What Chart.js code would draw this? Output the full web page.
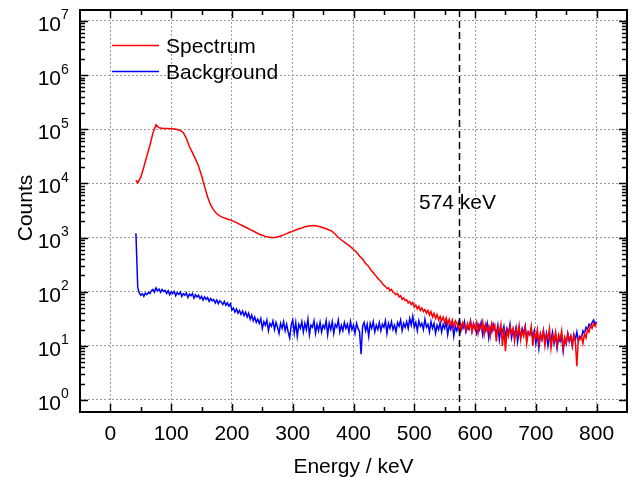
<!DOCTYPE html>
<html>
<head>
<meta charset="utf-8">
<script src="https://cdn.jsdelivr.net/npm/chart.js@4.4.1/dist/chart.umd.min.js"></script>
<style>
  html, body { margin: 0; padding: 0; background: #fff; }
</style>
</head>
<body>
<canvas id="spec" width="632" height="477"></canvas>
<script>
// Spectrum channels (keV): coarse on the smooth part, 2.5 keV on the noisy tail
const specEnergies = [
  42,
  45, 50, 55, 60, 65, 70, 75, 80, 85, 90,
  95, 100, 105, 110, 115, 120, 125, 130, 135, 140,
  145, 150, 155, 160, 165, 170, 175, 180, 185, 190,
  195, 200, 205, 210, 215, 220, 225, 230, 235, 240,
  245, 250, 255, 260, 265, 270, 275, 280, 285, 290,
  295, 300, 305, 310, 315, 320, 325, 330, 335, 340,
  345, 350, 355, 360, 365, 370, 375, 380, 385, 390,
  395,
  400, 402.5, 405, 407.5, 410, 412.5, 415, 417.5, 420, 422.5, 425, 427.5, 430, 432.5, 435, 437.5, 440, 442.5, 445, 447.5,
  450, 452.5, 455, 457.5, 460, 462.5, 465, 467.5, 470, 472.5, 475, 477.5, 480, 482.5, 485, 487.5, 490, 492.5, 495, 497.5,
  500, 502.5, 505, 507.5, 510, 512.5, 515, 517.5, 520, 522.5, 525, 527.5, 530, 532.5, 535, 537.5, 540, 542.5, 545, 547.5,
  550, 552.5, 555, 557.5, 560, 562.5, 565, 567.5, 570, 572.5, 575, 577.5, 580, 582.5, 585, 587.5, 590, 592.5, 595, 597.5,
  600, 602.5, 605, 607.5, 610, 612.5, 615, 617.5, 620, 622.5, 625, 627.5, 630, 632.5, 635, 637.5, 640, 642.5, 645, 647.5,
  650, 652.5, 655, 657.5, 660, 662.5, 665, 667.5, 670, 672.5, 675, 677.5, 680, 682.5, 685, 687.5, 690, 692.5, 695, 697.5,
  700, 702.5, 705, 707.5, 710, 712.5, 715, 717.5, 720, 722.5, 725, 727.5, 730, 732.5, 735, 737.5, 740, 742.5, 745, 747.5,
  750, 752.5, 755, 757.5, 760, 762.5, 765, 767.5, 770, 772.5, 775, 777.5, 780, 782.5, 785, 787.5, 790, 792.5, 795, 797.5,
  800
];

const spectrum = [
  11500,
  10200, 13000, 20000, 32000, 50000, 85000, 120000, 106000, 104000, 103000,
  103000, 102000, 101000, 99000, 95000, 86000, 68000, 48000, 37000, 28000,
  21000, 14000, 8700, 5600, 4000, 3200, 2750, 2500, 2350, 2250,
  2150, 2050, 1950, 1830, 1700, 1600, 1500, 1400, 1320, 1230,
  1150, 1100, 1050, 1020, 1000, 1000, 1020, 1070, 1120, 1180,
  1250, 1300, 1380, 1450, 1500, 1580, 1620, 1650, 1660, 1630,
  1580, 1520, 1450, 1380, 1300, 1150, 1000, 900, 820, 750,
  680,
  600, 570, 535, 495, 450, 425, 400, 365, 330, 310, 292, 262, 240, 225, 206, 192, 176, 166, 154, 142,
  132, 125, 114, 118, 105, 110, 98, 94, 88, 92, 80, 84, 72, 77, 68, 71, 62, 66, 58, 63,
  52, 57, 48, 54, 45, 50, 43, 47, 40, 45, 37, 43, 34, 40, 32, 38, 30, 35, 29, 34,
  27, 33, 25, 31, 24, 30, 22, 29, 26, 21, 28, 20, 27, 23, 19, 26, 21, 28, 18, 25,
  20, 27, 17, 24, 21, 28, 16, 25, 19, 23, 15, 26, 20, 24, 12, 22, 18, 25, 10, 21,
  8, 19, 15, 23, 17, 21, 12, 20, 16, 24, 13, 19, 15, 22, 11, 18, 16, 23, 10, 17,
  14, 20, 11, 17, 13, 19, 10, 16, 14, 21, 9, 15, 12, 18, 10, 16, 13, 19, 9, 14,
  11, 17, 13, 15, 10, 16, 12, 4.2, 14, 13, 15, 11, 17, 14, 20, 18, 24, 21, 26, 23,
  27
];

// Background channels (keV)
const bgEnergies = [
  42,
  45, 47.5, 50, 52.5, 55, 57.5, 60, 62.5, 65, 67.5, 70, 72.5, 75, 77.5, 80, 82.5, 85, 87.5, 90, 92.5,
  95, 97.5, 100, 102.5, 105, 107.5, 110, 112.5, 115, 117.5, 120, 122.5, 125, 127.5, 130, 132.5, 135, 137.5, 140, 142.5,
  145, 147.5, 150, 152.5, 155, 157.5, 160, 162.5, 165, 167.5, 170, 172.5, 175, 177.5, 180, 182.5, 185, 187.5, 190, 192.5,
  195, 197.5, 200, 202.5, 205, 207.5, 210, 212.5, 215, 217.5, 220, 222.5, 225, 227.5, 230, 232.5, 235, 237.5, 240, 242.5,
  245, 247.5, 250, 252.5, 255, 257.5, 260, 262.5, 265, 267.5, 270, 272.5, 275, 277.5, 280, 282.5, 285, 287.5, 290, 292.5,
  295, 297.5, 300, 302.5, 305, 307.5, 310, 312.5, 315, 317.5, 320, 322.5, 325, 327.5, 330, 332.5, 335, 337.5, 340, 342.5,
  345, 347.5, 350, 352.5, 355, 357.5, 360, 362.5, 365, 367.5, 370, 372.5, 375, 377.5, 380, 382.5, 385, 387.5, 390, 392.5,
  395, 397.5, 400, 402.5, 405, 407.5, 410, 412.5, 415, 417.5, 420, 422.5, 425, 427.5, 430, 432.5, 435, 437.5, 440, 442.5,
  445, 447.5, 450, 452.5, 455, 457.5, 460, 462.5, 465, 467.5, 470, 472.5, 475, 477.5, 480, 482.5, 485, 487.5, 490, 492.5,
  495, 497.5, 500, 502.5, 505, 507.5, 510, 512.5, 515, 517.5, 520, 522.5, 525, 527.5, 530, 532.5, 535, 537.5, 540, 542.5,
  545, 547.5, 550, 552.5, 555, 557.5, 560, 562.5, 565, 567.5, 570, 572.5, 575, 577.5, 580, 582.5, 585, 587.5, 590, 592.5,
  595, 597.5, 600, 602.5, 605, 607.5, 610, 612.5, 615, 617.5, 620, 622.5, 625, 627.5, 630, 632.5, 635, 637.5, 640, 642.5,
  645, 647.5, 650, 652.5, 655, 657.5, 660, 662.5, 665, 667.5, 670, 672.5, 675, 677.5, 680, 682.5, 685, 687.5, 690, 692.5,
  695, 697.5, 700, 702.5, 705, 707.5, 710, 712.5, 715, 717.5, 720, 722.5, 725, 727.5, 730, 732.5, 735, 737.5, 740, 742.5,
  745, 747.5, 750, 752.5, 755, 757.5, 760, 762.5, 765, 767.5, 770, 772.5, 775, 777.5, 780, 782.5, 785, 787.5, 790, 792.5,
  795, 797.5, 800
];

const background = [
  1200,
  120, 95, 86, 92, 82, 94, 88, 97, 92, 104, 110, 98, 118, 104, 112, 97, 110, 101, 106, 93,
  104, 88, 99, 92, 101, 84, 96, 89, 98, 82, 92, 86, 95, 78, 90, 84, 93, 76, 88, 80,
  86, 74, 82, 70, 80, 72, 78, 66, 75, 68, 72, 62, 70, 60, 68, 64, 58, 66, 56, 62,
  54, 60, 46, 50, 42, 48, 40, 45, 38, 44, 36, 42, 34, 40, 31, 37, 29, 34, 27, 31,
  26, 32, 21, 28, 24, 30, 19, 26, 23, 29, 20, 27, 22, 17, 26, 21, 28, 19, 25, 18,
  14, 24, 30, 17, 27, 15, 25, 21, 28, 18, 26, 20, 31, 16, 24, 22, 29, 17, 25, 19,
  27, 18, 24, 21, 29, 16, 26, 20, 28, 17, 25, 22, 30, 18, 24, 19, 27, 21, 25, 18,
  28, 20, 24, 17, 26, 21, 18, 7, 23, 27, 19, 25, 15, 26, 21, 28, 18, 24, 20, 27,
  19, 25, 22, 29, 17, 26, 21, 28, 20, 24, 18, 27, 23, 30, 19, 26, 22, 28, 21, 32,
  24, 35, 22, 27, 19, 29, 23, 26, 20, 31, 22, 25, 18, 28, 21, 26, 17, 24, 20, 27,
  18, 25, 21, 28, 16, 24, 20, 27, 15, 23, 19, 26, 17, 24, 21, 28, 18, 22, 20, 29,
  19, 26, 22, 17, 25, 20, 27, 16, 23, 19, 26, 14, 22, 18, 25, 20, 17, 24, 13, 21,
  18, 23, 15, 21, 17, 25, 14, 20, 16, 22, 12, 19, 15, 21, 17, 23, 13, 18, 16, 20,
  14, 19, 11, 17, 9, 16, 13, 19, 12, 17, 10, 15, 13, 18, 11, 16, 9, 14, 12, 15,
  8, 14, 11, 17, 12, 15, 10, 16, 13, 18, 12, 15, 14, 19, 17, 22, 20, 25, 23, 27,
  30, 25, 28
];

const xMajor = [0, 100, 200, 300, 400, 500, 600, 700, 800];
const xMinor = [50, 150, 250, 350, 450, 550, 650, 750];
const yDecades = [1, 10, 100, 1000, 10000, 100000, 1000000, 10000000];
const markerEnergy = 574;
const markerLabel = '574 keV';

const FONT = '"Liberation Sans", Arial, sans-serif';

const decor = {
  id: 'decor',
  afterDatasetsDraw(chart) {
    const { ctx, chartArea: a, scales: { x, y } } = chart;
    ctx.save();

    // 574 keV marker
    const mx = Math.round(x.getPixelForValue(markerEnergy)) + 0.5;
    ctx.strokeStyle = '#000';
    ctx.lineWidth = 1.5;
    ctx.setLineDash([7, 4]);
    ctx.beginPath();
    ctx.moveTo(mx, a.top);
    ctx.lineTo(mx, a.bottom);
    ctx.stroke();
    ctx.setLineDash([]);

    // inward ticks on all four sides
    ctx.lineWidth = 1.5;
    ctx.beginPath();
    xMajor.forEach(v => {
      const px = Math.round(x.getPixelForValue(v)) + 0.5;
      ctx.moveTo(px, a.bottom); ctx.lineTo(px, a.bottom - 8);
      ctx.moveTo(px, a.top); ctx.lineTo(px, a.top + 8);
    });
    xMinor.forEach(v => {
      const px = Math.round(x.getPixelForValue(v)) + 0.5;
      ctx.moveTo(px, a.bottom); ctx.lineTo(px, a.bottom - 5);
      ctx.moveTo(px, a.top); ctx.lineTo(px, a.top + 5);
    });
    yDecades.forEach(d => {
      const py = Math.round(y.getPixelForValue(d)) + 0.5;
      ctx.moveTo(a.left, py); ctx.lineTo(a.left + 8, py);
      ctx.moveTo(a.right, py); ctx.lineTo(a.right - 8, py);
      if (d < 1e7) {
        for (let m = 2; m <= 9; m++) {
          const pm = Math.round(y.getPixelForValue(d * m)) + 0.5;
          ctx.moveTo(a.left, pm); ctx.lineTo(a.left + 5, pm);
          ctx.moveTo(a.right, pm); ctx.lineTo(a.right - 5, pm);
        }
      }
    });
    ctx.stroke();

    // frame
    ctx.lineWidth = 2;
    ctx.strokeRect(a.left, a.top, a.right - a.left, a.bottom - a.top);

    // y tick labels 10^n
    ctx.fillStyle = '#000';
    ctx.textBaseline = 'alphabetic';
    yDecades.forEach(d => {
      const py = y.getPixelForValue(d);
      ctx.font = '21px ' + FONT;
      ctx.textAlign = 'right';
      ctx.fillText('10', 61, py + 10);
      ctx.font = '14px ' + FONT;
      ctx.textAlign = 'left';
      ctx.fillText(String(Math.round(Math.log10(d))), 61, py - 1.5);
    });

    // axis titles
    ctx.font = '21px ' + FONT;
    ctx.textAlign = 'center';
    ctx.fillText('Energy / keV', (a.left + a.right) / 2, 473);
    ctx.save();
    ctx.translate(31.5, 208);
    ctx.rotate(-Math.PI / 2);
    ctx.fillText('Counts', 0, 0);
    ctx.restore();

    // marker label
    ctx.textAlign = 'left';
    ctx.fillText(markerLabel, 419, 209);

    // legend
    const items = [['Spectrum', '#ff0000', 45.5], ['Background', '#0000ff', 71.5]];
    items.forEach(([label, color, ly]) => {
      ctx.strokeStyle = color;
      ctx.lineWidth = 1.5;
      ctx.beginPath();
      ctx.moveTo(112, ly); ctx.lineTo(159, ly);
      ctx.stroke();
      ctx.fillStyle = '#000';
      ctx.fillText(label, 166, ly + 7.5);
    });

    ctx.restore();
  }
};

const gridOpts = { color: '#9a9a9a', lineWidth: 1, drawTicks: false };

new Chart(document.getElementById('spec'), {
  type: 'line',
  data: {
    datasets: [
      {
        label: 'Spectrum',
        data: specEnergies.map((e, i) => ({ x: e, y: spectrum[i] })),
        borderColor: '#ff0000',
        borderWidth: 1.5,
        pointRadius: 0,
        tension: 0,
        fill: false,
      },
      {
        label: 'Background',
        data: bgEnergies.map((e, i) => ({ x: e, y: background[i] })),
        borderColor: '#0000ff',
        borderWidth: 1.5,
        pointRadius: 0,
        tension: 0,
        fill: false,
      },
    ],
  },
  options: {
    responsive: false,
    animation: false,
    layout: { padding: { top: 10, right: 5, left: 0, bottom: 0 } },
    plugins: { legend: { display: false }, tooltip: { enabled: false } },
    scales: {
      x: {
        type: 'linear',
        min: -50,
        max: 850,
        afterBuildTicks: s => { s.ticks = xMajor.map(v => ({ value: v })); },
        afterFit: s => { s.height = 65; },
        grid: gridOpts,
        border: { display: false, dash: [2, 2] },
        ticks: { color: '#000', font: { family: FONT, size: 21 }, padding: 10, maxRotation: 0, autoSkip: false },
      },
      y: {
        type: 'logarithmic',
        min: 0.608,
        max: 1.59e7,
        afterBuildTicks: s => { s.ticks = yDecades.map(v => ({ value: v })); },
        afterFit: s => { s.width = 80; },
        grid: gridOpts,
        border: { display: false, dash: [2, 2] },
        ticks: { display: false },
      },
    },
  },
  plugins: [decor],
});
</script>
</body>
</html>
